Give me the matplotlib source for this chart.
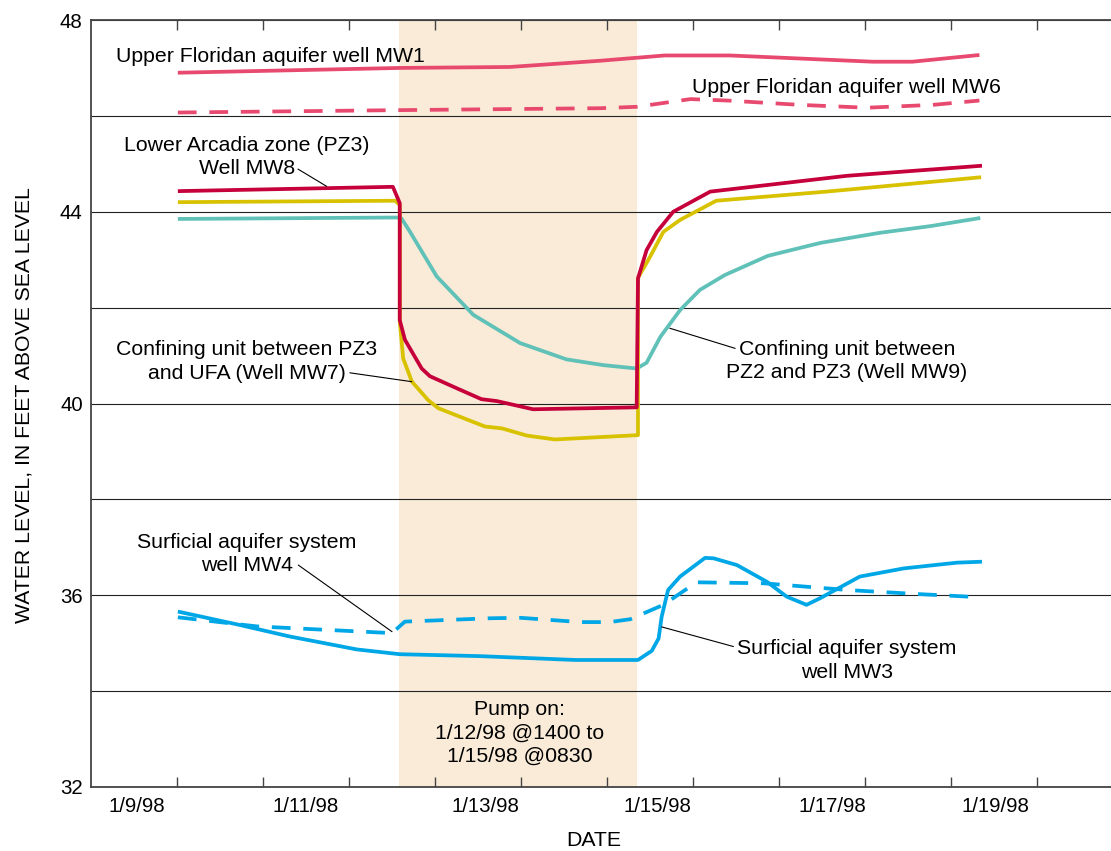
import matplotlib
matplotlib.use("Agg")
import matplotlib.pyplot as plt

plt.rcParams["font.family"] = ["Liberation Sans", "DejaVu Sans"]

# Time axis: day of January 1998 (fractional, 0 h = day boundary)
# Pumping period: 1/12/98 @1400 to 1/15/98 @0830
pump_start = 12 + 14.0 / 24
pump_end = 15 + 8.5 / 24

# Upper Floridan aquifer well MW1
mw1_day = [10.01, 12.59, 13.87, 14.92, 15.67, 16.43, 18.09, 18.55, 19.33]
mw1_ft = [46.90, 47.00, 47.02, 47.15, 47.26, 47.26, 47.13, 47.13, 47.27]

# Upper Floridan aquifer well MW6
mw6_day = [10.01, 12.59, 14.92, 15.35, 15.97, 16.40, 17.24, 18.02, 18.79, 19.33]
mw6_ft = [46.07, 46.12, 46.16, 46.19, 46.35, 46.32, 46.23, 46.17, 46.23, 46.32]

# Lower Arcadia zone (PZ3) well MW8
mw8_day = [10.01, 12.51, 12.59, 12.59, 12.65, 12.845, 12.94, 13.25, 13.54, 13.72,
           14.14, 15.345, 15.36, 15.46, 15.58, 15.77, 16.20, 17.79, 19.36]
mw8_ft = [44.43, 44.52, 44.18, 41.74, 41.33, 40.73, 40.57, 40.32, 40.09, 40.05,
          39.88, 39.92, 42.61, 43.20, 43.58, 44.00, 44.42, 44.75, 44.96]

# Confining unit between PZ3 and UFA, well MW7
mw7_day = [10.01, 12.535, 12.59, 12.59, 12.63, 12.73, 12.92, 13.04, 13.58, 13.78,
           14.07, 14.395, 15.36, 15.36, 15.50, 15.655, 15.85, 16.27, 17.55, 19.35]
mw7_ft = [44.20, 44.23, 44.14, 41.71, 40.94, 40.46, 40.07, 39.90, 39.52, 39.48,
          39.33, 39.25, 39.34, 42.62, 43.06, 43.58, 43.83, 44.23, 44.42, 44.72]

# Confining unit between PZ2 and PZ3, well MW9
mw9_day = [10.01, 12.555, 12.61, 12.71, 13.02, 13.445, 13.99, 14.53, 14.96, 15.345,
           15.46, 15.62, 15.85, 16.08, 16.37, 16.87, 17.48, 18.17, 18.76, 19.34]
mw9_ft = [43.85, 43.88, 43.86, 43.58, 42.65, 41.85, 41.26, 40.92, 40.80, 40.73,
          40.85, 41.39, 41.95, 42.37, 42.68, 43.08, 43.35, 43.56, 43.70, 43.87]

# Surficial aquifer system well MW4
mw4_day = [10.01, 10.93, 12.50, 12.65, 13.64, 13.99, 14.69, 15.03, 15.27, 15.655,
           16.04, 16.82, 17.79, 18.56, 19.32]
mw4_ft = [35.54, 35.35, 35.21, 35.45, 35.52, 35.53, 35.44, 35.44, 35.50, 35.80,
          36.27, 36.25, 36.11, 36.03, 35.96]

# Surficial aquifer system well MW3
mw3_day = [10.01, 10.73, 11.31, 12.09, 12.59, 13.52, 14.63, 15.36, 15.52, 15.60,
           15.635, 15.71, 15.85, 16.14, 16.24, 16.51, 16.86, 17.09, 17.32, 17.48,
           17.94, 18.45, 19.07, 19.36]
mw3_ft = [35.66, 35.38, 35.14, 34.87, 34.77, 34.73, 34.65, 34.65, 34.84, 35.10,
          35.55, 36.11, 36.39, 36.78, 36.77, 36.63, 36.28, 35.97, 35.80, 35.94,
          36.39, 36.56, 36.68, 36.70]

tick_days = [9.535, 11.50, 13.59, 15.59, 17.615, 19.52]
tick_labels = ["1/9/98", "1/11/98", "1/13/98", "1/15/98", "1/17/98", "1/19/98"]
level_ticks = [32, 36, 40, 44, 48]

PINK = "#e8496e"
CRIMSON = "#c6003b"
YELLOW = "#d8c200"
TEAL = "#5fc1b7"
BLUE = "#00a7e6"
SHADE = "#f9ebd7"
FS = 15.3
TICK_FS = 14.7
LW = 2.7

fig = plt.figure(figsize=(11.11, 8.51), dpi=100)
ax = fig.add_axes([91 / 1111, 64 / 851, 1020 / 1111, 767 / 851])

ax.axvspan(pump_start, pump_end, color=SHADE, lw=0, zorder=0.2)

line_kw = dict(lw=LW, solid_joinstyle="round", solid_capstyle="butt", zorder=3)
dash = (5.0, 3.4)
ax.plot(mw1_day, mw1_ft, color=PINK, **line_kw)
ax.plot(mw6_day, mw6_ft, color=PINK, dashes=dash, **line_kw)
ax.plot(mw9_day, mw9_ft, color=TEAL, **line_kw)
ax.plot(mw7_day, mw7_ft, color=YELLOW, **line_kw)
ax.plot(mw8_day, mw8_ft, color=CRIMSON, **line_kw)
ax.plot(mw4_day, mw4_ft, color=BLUE, dashes=dash, **line_kw)
ax.plot(mw3_day, mw3_ft, color=BLUE, **line_kw)

ax.set_xlim(9.0, 20.86)
ax.set_ylim(32, 48)

# x axis: tick marks on day boundaries, labels centred on the days
ax.set_xticks(range(10, 21))
ax.set_xticklabels([])
ax.set_xticks(tick_days, minor=True)
ax.set_xticklabels(tick_labels, minor=True, fontsize=TICK_FS)
ax.tick_params(axis="x", which="major", direction="in", length=7.5, width=1.0,
               color="#444444", top=True, bottom=True)
ax.tick_params(axis="x", which="minor", length=0, pad=7)

# y axis: labels every 4 ft, grid every 2 ft
ax.set_yticks(level_ticks)
ax.set_yticklabels([str(v) for v in level_ticks], fontsize=TICK_FS)
ax.set_yticks(range(34, 48, 2), minor=True)
ax.tick_params(axis="y", which="both", length=0, pad=6)
ax.yaxis.grid(True, which="both", color="#222222", lw=0.8)
ax.set_axisbelow(True)

for side in ("left", "bottom", "top"):
    ax.spines[side].set_color("#444444")
    ax.spines[side].set_linewidth(1.3)
ax.spines["right"].set_visible(False)

ax.set_xlabel("DATE", fontsize=FS)
ax.xaxis.set_label_coords(0.493, -0.057)
ax.set_ylabel("WATER LEVEL, IN FEET ABOVE SEA LEVEL", fontsize=FS)
ax.yaxis.set_label_coords(-0.056, 0.498)

text_kw = dict(fontsize=FS, color="black", zorder=5, linespacing=1.3)
ax.text(9.29, 47.23, "Upper Floridan aquifer well MW1", ha="left", va="center", **text_kw)
ax.text(15.99, 46.60, "Upper Floridan aquifer well MW6", ha="left", va="center", **text_kw)
ax.text(10.81, 45.14, "Lower Arcadia zone (PZ3)\nWell MW8", ha="center", va="center",
        multialignment="center", **text_kw)
ax.text(10.81, 40.88, "Confining unit between PZ3\nand UFA (Well MW7)", ha="center",
        va="center", multialignment="center", **text_kw)
ax.text(17.79, 40.89, "Confining unit between\nPZ2 and PZ3 (Well MW9)", ha="center",
        va="center", multialignment="center", **text_kw)
ax.text(10.81, 36.86, "Surficial aquifer system\nwell MW4", ha="center", va="center",
        multialignment="center", **text_kw)
ax.text(17.79, 34.64, "Surficial aquifer system\nwell MW3", ha="center", va="center",
        multialignment="center", **text_kw)
ax.text(13.98, 33.13, "Pump on:\n1/12/98 @1400 to\n1/15/98 @0830", ha="center",
        va="center", multialignment="center", **text_kw)

# leader lines from labels to their curves
leaders = [
    ((11.407, 44.89), (11.74, 44.53)),
    ((12.01, 40.64), (12.73, 40.455)),
    ((16.49, 41.15), (15.73, 41.57)),
    ((11.41, 36.63), (12.50, 35.24)),
    ((16.47, 34.93), (15.635, 35.34)),
]
for start, end in leaders:
    ax.annotate("", xy=end, xytext=start,
                arrowprops=dict(arrowstyle="-", lw=0.8, color="black",
                                shrinkA=0, shrinkB=0), zorder=4)

fig.savefig("out.png", dpi=100)
